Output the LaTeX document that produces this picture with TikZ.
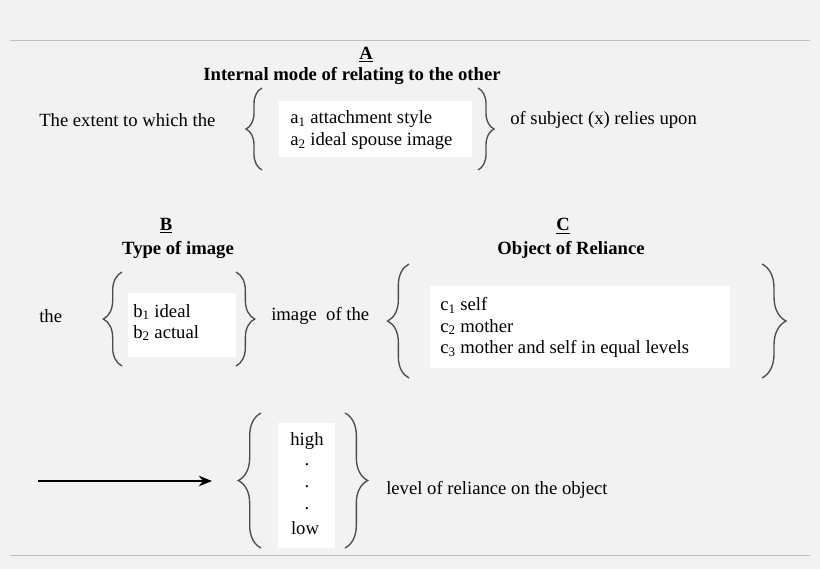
\documentclass[tikz,border=0pt]{standalone}
\usepackage{fontspec}
\setmainfont{Liberation Serif}
\usetikzlibrary{decorations.pathreplacing,arrows.meta}
\begin{document}
\begin{tikzpicture}[x=0.75pt,y=-0.75pt,
    every node/.append style={font=\fontsize{14}{16}\selectfont, inner sep=0pt},
    txt/.style={anchor=west},
    head/.style={font=\fontsize{14}{16}\selectfont\bfseries},
    whitebox/.style={fill=white, draw=none},
    curly/.style={decorate, decoration={brace, amplitude=#1}, draw=black!70, line width=1pt}
  ]
  \fill[black!5] (0,0) rectangle (820,569);
  \useasboundingbox (0,0) rectangle (820,569);
  \draw[black!25] (10,40) -- (810,40);
  \draw[black!25] (10,555) -- (810,555);
  % row A
  \node[head] (ha) at (366,55) {\underline{A}};
  \node[head] (ia) at (352,76) {Internal mode of relating to the other};
  \node[txt] (ext) at (39,120) {The extent to which the};
  \fill[white] (279,101) rectangle (472,157);
  \node[txt] (a1) at (290,119) {a\textsubscript{1} attachment style};
  \node[txt] (a2) at (290,141) {a\textsubscript{2} ideal spouse image};
  \draw[curly=12] (262,170) -- (262,88);
  \draw[curly=12] (478,88) -- (478,170);
  \node[txt] (subj) at (510,120) {of subject (x) relies upon};
  % row B
  \node[head] (hb) at (166,226) {\underline{B}};
  \node[head] (tb) at (178,250) {Type of image};
  \node[txt] (the) at (39,316) {the};
  \fill[white] (128,293) rectangle (236,357);
  \node[txt] (b1) at (133,312) {b\textsubscript{1} ideal};
  \node[txt] (b2) at (133,333) {b\textsubscript{2} actual};
  \draw[curly=14] (122,366) -- (122,272);
  \draw[curly=14] (236,272) -- (236,366);
  \node[txt] (img) at (271,316) {image\ \ of the};
  % row C
  \node[head] (hc) at (563,226) {\underline{C}};
  \node[head] (tc) at (571,250) {Object of Reliance};
  \fill[white] (430,286) rectangle (730,368);
  \node[txt] (c1) at (440,305) {c\textsubscript{1} self};
  \node[txt] (c2) at (440,327) {c\textsubscript{2} mother};
  \node[txt] (c3) at (440,349) {c\textsubscript{3} mother and self in equal levels};
  \draw[curly=16] (409,378) -- (409,264);
  \draw[curly=18] (762,264) -- (762,378);
  % level
  \coordinate (st) at (38,481);
  \coordinate (en) at (212,481);
  \draw[-{Stealth[length=10pt,width=8pt]}, line width=1pt] (st) -- (en);
  \fill[white] (278,423) rectangle (335,548);
  \node (hi) at (307,441) {high};
  \foreach \yy in {465,487,509} \node at (307,\yy) {.};
  \node (lo) at (305,528) {low};
  \draw[curly=17] (261,548) -- (261,413);
  \draw[curly=17] (345,413) -- (345,548);
  \node[txt] (lvl) at (386,490) {level of reliance on the object};
\end{tikzpicture}
\end{document}
